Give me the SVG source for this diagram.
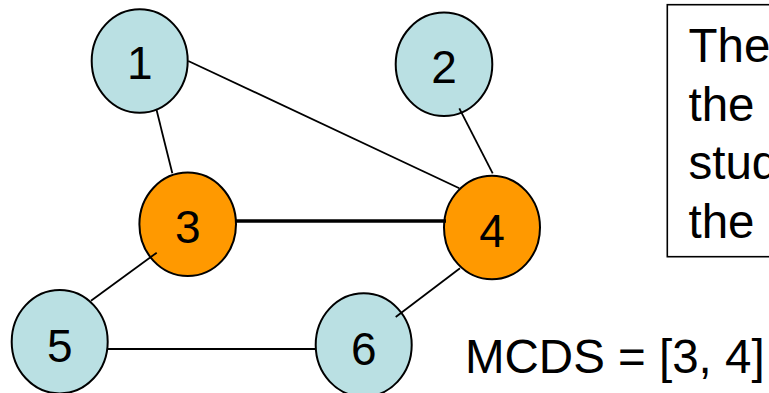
<svg xmlns="http://www.w3.org/2000/svg" width="769" height="393" viewBox="0 0 769 393">
<style>
.n ellipse{stroke:#000;stroke-width:2}
.blue{fill:#BAE0E3}
.orange{fill:#FF9900}
.lbl{font-family:"Liberation Sans",Arial,sans-serif;font-size:46px;fill:#000}
.big{font-size:47.5px}
.n text{text-anchor:middle}
#edges line{stroke:#000;stroke-width:1.8;stroke-linecap:butt}
#edges line.thick{stroke-width:3.6}
</style>
<rect width="769" height="393" fill="#fff"/>
<g id="node1" class="n"><ellipse class="blue" cx="139.7" cy="61" rx="48" ry="51.7"/><text class="lbl" x="139.7" y="79.3">1</text></g>
<g id="node2" class="n"><ellipse class="blue" cx="444" cy="64.3" rx="48.3" ry="51.7"/><text class="lbl" x="444" y="83.3">2</text></g>
<g id="node3" class="n"><ellipse class="orange" cx="187.7" cy="224.3" rx="48.3" ry="51.7"/><text class="lbl" x="187.7" y="243.3">3</text></g>
<g id="node4" class="n"><ellipse class="orange" cx="492" cy="227.5" rx="48" ry="51.7"/><text class="lbl" x="492" y="246.7">4</text></g>
<g id="node5" class="n"><ellipse class="blue" cx="59.7" cy="341.7" rx="48" ry="51.7"/><text class="lbl" x="59.7" y="361.5">5</text></g>
<g id="node6" class="n"><ellipse class="blue" cx="363.7" cy="345" rx="48" ry="51.7"/><text class="lbl" x="363.7" y="364.5">6</text></g>
<g id="edges">
<line x1="156.3" y1="109" x2="172.3" y2="173.3"/>
<line x1="188.3" y1="61" x2="459.3" y2="188.3"/>
<line x1="459.3" y1="108.3" x2="492.7" y2="173.3"/>
<line class="thick" x1="236" y1="221" x2="446" y2="221"/>
<line x1="156.7" y1="252.7" x2="91" y2="300.7"/>
<line x1="107.7" y1="349" x2="315.7" y2="349"/>
<line x1="395.7" y1="317" x2="460" y2="268.3"/>
</g>
<g id="note">
<rect x="667.3" y="4.7" width="120" height="252" fill="none" stroke="#000" stroke-width="1.6"/>
<text class="lbl big" x="688.5" y="61.7">The</text>
<text class="lbl big" x="688.5" y="120.5">the</text>
<text class="lbl big" x="688.5" y="179.3">stud</text>
<text class="lbl big" x="688.5" y="238">the</text>
</g>
<text id="mcds" class="lbl big" x="465" y="373.3">MCDS = [3, 4]</text>
</svg>
